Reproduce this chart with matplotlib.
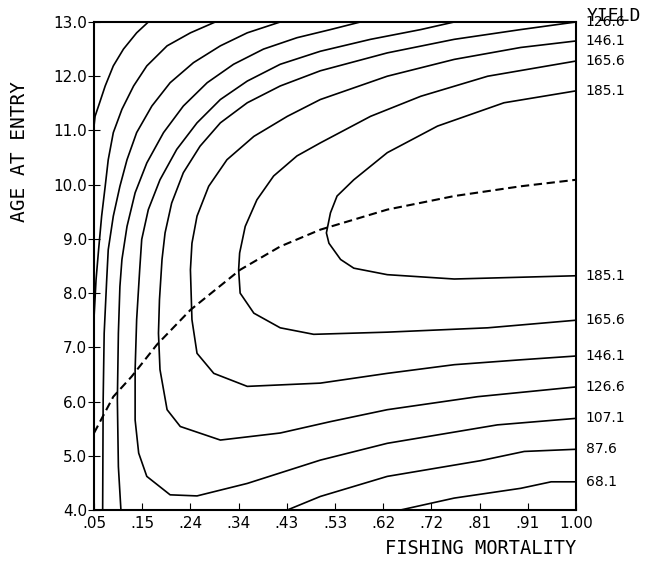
import matplotlib.pyplot as plt

# axis ticks
f_ticks = [0.05, 0.145, 0.24, 0.335, 0.43, 0.525, 0.62, 0.715, 0.81, 0.905, 1.00]
f_labels = ['.05', '.15', '.24', '.34', '.43', '.53', '.62', '.72', '.81', '.91', '1.00']
age_ticks = [4.0, 5.0, 6.0, 7.0, 8.0, 9.0, 10.0, 11.0, 12.0, 13.0]

# yield isopleths (fishing mortality, age at entry)
y29_f = [.157, .134, .108, .088, .072, .061, .052, .050]
y29_a = [13.0, 12.80, 12.50, 12.19, 11.82, 11.51, 11.26, 11.08]

y48_f = [.289, .240, .194, .154, .128, .105, .088, .078, .072, .065, .059, .054, .050]
y48_a = [13.0, 12.80, 12.56, 12.19, 11.82, 11.39, 10.96, 10.46, 9.97, 9.42, 8.80, 8.25, 7.55]

y68_f = [.417, .352, .299, .246, .200, .164, .134, .115, .101, .088, .078, .075, .070, .068, .067]
y68_a = [13.0, 12.80, 12.56, 12.25, 11.88, 11.45, 10.96, 10.46, 9.97, 9.42, 8.80, 8.25, 7.26, 6.03, 4.00]
y68_low_f = [.654, .760, .891, .951, 1.0]
y68_low_a = [4.00, 4.22, 4.40, 4.52, 4.52]

y87_f = [.575, .516, .450, .384, .325, .273, .226, .187, .154, .131, .115, .105, .101, .098, .096, .098, .103]
y87_a = [13.0, 12.86, 12.71, 12.50, 12.22, 11.88, 11.45, 10.96, 10.40, 9.85, 9.23, 8.62, 8.12, 7.26, 6.03, 4.80, 4.00]
y87_low_f = [.431, .496, .628, .812, .898, 1.0]
y87_low_a = [4.00, 4.25, 4.62, 4.91, 5.08, 5.12]

y107_f = [.760, .694, .595, .496, .417, .352, .299, .253, .213, .180, .157, .144, .140, .134, .131,
          .131, .138, .154, .200, .253, .352, .496, .628, .845, 1.0]
y107_a = [13.0, 12.86, 12.68, 12.46, 12.22, 11.91, 11.57, 11.14, 10.65, 10.09, 9.54, 8.99, 8.43, 7.51, 6.59,
          5.66, 5.05, 4.62, 4.28, 4.26, 4.49, 4.92, 5.23, 5.57, 5.69]

y126_f = [1.0, .891, .760, .628, .496, .417, .352, .299, .259, .226, .203, .190, .184, .179, .177,
          .180, .194, .220, .299, .417, .516, .628, .806, 1.0]
y126_a = [13.0, 12.86, 12.68, 12.43, 12.10, 11.82, 11.51, 11.14, 10.71, 10.22, 9.66, 9.11, 8.62, 7.88, 7.26,
          6.59, 5.85, 5.54, 5.29, 5.42, 5.63, 5.85, 6.09, 6.27]

y146_f = [1.0, .891, .760, .628, .496, .431, .365, .312, .276, .253, .243, .240, .243, .253, .286,
          .352, .496, .628, .760, .891, 1.0]
y146_a = [12.65, 12.53, 12.31, 12.00, 11.57, 11.26, 10.89, 10.46, 9.97, 9.42, 8.92, 8.43, 7.51, 6.89, 6.52,
          6.28, 6.34, 6.52, 6.68, 6.77, 6.84]

y165_f = [1.0, .826, .694, .595, .496, .450, .404, .371, .348, .337, .335, .338, .365, .417, .483,
          .628, .826, 1.0]
y165_a = [12.28, 12.00, 11.63, 11.26, 10.77, 10.53, 10.16, 9.72, 9.23, 8.74, 8.43, 8.00, 7.63, 7.36, 7.24,
          7.28, 7.36, 7.50]

y185_f = [1.0, .858, .727, .628, .562, .529, .516, .508, .513, .536, .562, .628, .760, 1.0]
y185_a = [11.73, 11.51, 11.08, 10.59, 10.09, 9.79, 9.48, 9.11, 8.92, 8.62, 8.46, 8.34, 8.26, 8.32]

# dashed curve (best age at entry for each F)
opt_f = [.050, .088, .124, .174, .240, .338, .417, .496, .628, .760, .891, 1.0]
opt_a = [5.42, 6.09, 6.46, 7.05, 7.69, 8.43, 8.86, 9.17, 9.54, 9.79, 9.97, 10.09]

lines = [(y29_f, y29_a, 29.1), (y48_f, y48_a, 48.6),
         (y68_f, y68_a, 68.1), (y68_low_f, y68_low_a, 68.1),
         (y87_f, y87_a, 87.6), (y87_low_f, y87_low_a, 87.6),
         (y107_f, y107_a, 107.1), (y126_f, y126_a, 126.6),
         (y146_f, y146_a, 146.1), (y165_f, y165_a, 165.6),
         (y185_f, y185_a, 185.1)]

fig = plt.figure(figsize=(6.58, 5.77), dpi=100)
ax = fig.add_axes([0.1429, 0.1161, 0.7325, 0.8458])

for f, a, level in lines:
    ax.plot(f, a, color='black', lw=1.2)
    # label the ends that reach the right edge
    for i in (0, -1):
        if f[i] == 1.0:
            ax.annotate('%.1f' % level, xy=(1.0, a[i]), xytext=(7, 0), textcoords='offset points',
                        ha='left', va='center', fontsize=10, annotation_clip=False)

ax.plot(opt_f, opt_a, color='black', lw=1.5, linestyle=(0, (4, 2.2)))

ax.set_xlim(0.05, 1.0)
ax.set_ylim(4.0, 13.0)
ax.set_xticks(f_ticks)
ax.set_xticklabels(f_labels, fontsize=11)
ax.set_yticks(age_ticks)
ax.set_yticklabels(['%.1f' % v for v in age_ticks], fontsize=11)
ax.tick_params(axis='x', direction='in', length=5, pad=4)
ax.tick_params(axis='y', direction='inout', length=8, pad=1)
for s in ax.spines.values():
    s.set_linewidth(1.5)

ax.text(1.023, 1.012, 'YIELD', transform=ax.transAxes, fontsize=13,
        family='DejaVu Sans Mono', ha='left', va='center')
ax.text(-0.154, 0.734, 'AGE AT ENTRY', transform=ax.transAxes, fontsize=14,
        family='DejaVu Sans Mono', rotation=90, ha='center', va='center')
ax.text(1.0, -0.078, 'FISHING MORTALITY', transform=ax.transAxes, fontsize=13.5,
        family='DejaVu Sans Mono', ha='right', va='center')

plt.savefig('out.png', dpi=100)
